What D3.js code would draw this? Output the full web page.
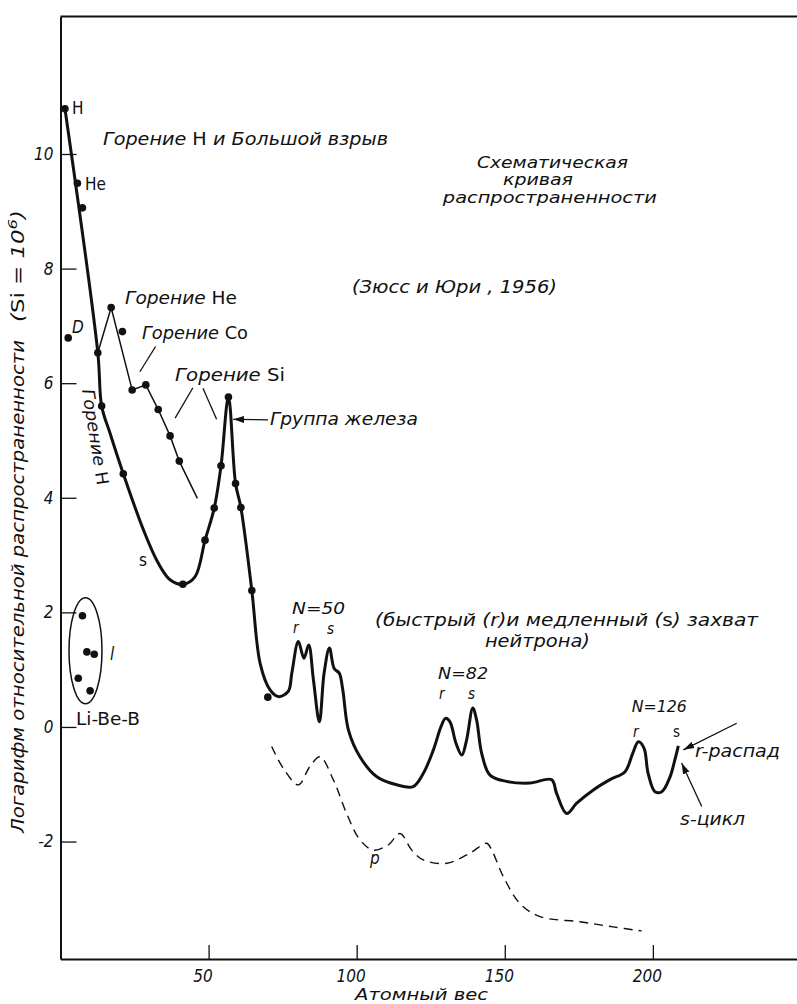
<!DOCTYPE html>
<html>
<head>
<meta charset="utf-8">
<script src="https://cdn.jsdelivr.net/npm/d3@7"></script>
<style>
  body { margin: 0; background: #fff; }
  svg text { font-family: "DejaVu Sans Condensed", "DejaVu Sans", sans-serif; fill: #111; font-size: 17px; }
  .it { font-style: italic; }
  .up { font-style: normal; }
</style>
</head>
<body>
<script>
'use strict';

// главная кривая (атомный вес / логарифм распространенности)
const mainMass = [1.5, 12.6, 13.9, 16.7, 21.2, 28.0, 33.0, 37.0, 41.3, 45.4, 48.8, 51.9, 54.2,
  56.7, 59.1, 60.9, 64.6, 67.4, 70.7, 73.5, 76.9, 78.1, 80.3, 82.2, 83.8, 85.4, 87.4, 89.0,
  90.8, 92.4, 94.1, 95.3, 97.2, 101.1, 106.8, 113.5, 119.1, 122.5, 125.9, 128.5, 130.0, 131.5,
  133.5, 135.5, 137.1, 139.2, 140.5, 142.2, 145.0, 150.6, 158.5, 165.8, 167.5, 170.9, 174.3,
  179.9, 185.5, 190.6, 193.2, 195.1, 197.0, 198.4, 200.7, 203.0, 205.8, 207.4, 208.6];
const mainLog = [10.79, 6.53, 5.60, 5.13, 4.42, 3.44, 2.86, 2.57, 2.49, 2.62, 3.26, 3.82, 4.56,
  5.76, 4.25, 3.83, 2.38, 1.11, 0.65, 0.53, 0.62, 0.94, 1.49, 1.20, 1.43, 0.82, 0.09, 0.94,
  1.38, 1.02, 0.94, 0.65, -0.05, -0.52, -0.87, -1.01, -1.04, -0.81, -0.40, 0.01, 0.15, 0.09,
  -0.28, -0.49, -0.23, 0.33, 0.12, -0.46, -0.84, -0.95, -0.98, -0.92, -1.16, -1.51, -1.33,
  -1.10, -0.92, -0.78, -0.46, -0.26, -0.37, -0.81, -1.13, -1.13, -0.87, -0.58, -0.33];

// горение He (тонкая ломаная)
const heMass = [12.6, 17.1, 24.2, 28.8, 33.0, 37.0, 40.1, 46.2];
const heLog = [6.53, 7.32, 5.88, 5.97, 5.54, 5.08, 4.64, 3.99];

// p-ядра (штрихи)
const pMass = [71.3, 75.2, 80.3, 84.2, 87.6, 92.1, 96.6, 101.1, 105.6, 110.6, 114.6, 118.6,
  122.5, 130.4, 138.3, 143.9, 145.6, 149.5, 155.1, 161.9, 175.4, 186.6, 196.2];
const pLog = [-0.34, -0.72, -1.01, -0.69, -0.52, -0.92, -1.51, -1.97, -2.15, -2.06, -1.86, -2.15,
  -2.32, -2.38, -2.20, -2.03, -2.15, -2.61, -3.08, -3.31, -3.40, -3.49, -3.56];

// точки
const dotMass = [1.5, 5.7, 7.4, 2.6, 12.6, 17.1, 20.9, 13.9, 24.2, 28.8, 33.0, 37.0, 40.1,
  21.2, 41.3, 48.8, 51.9, 54.2, 56.7, 59.1, 60.9, 64.6, 70.0];
const dotLog = [10.79, 9.49, 9.06, 6.79, 6.53, 7.32, 6.90, 5.60, 5.88, 5.97, 5.54, 5.08, 4.64,
  4.42, 2.49, 3.26, 3.82, 4.56, 5.76, 4.25, 3.83, 2.38, 0.52];

// Li-Be-B
const lightMass = [7.4, 8.9, 11.4, 6.0, 10.0];
const lightLog = [1.94, 1.31, 1.27, 0.85, 0.63];

const xTicks = [50, 100, 150, 200];
const yTicks = [-2, 0, 2, 4, 6, 8, 10];

(function() {

  let svgContainer = "";

  const xScale = d3.scaleLinear().domain([0, 249]).range([60.5, 798]);
  const yScale = d3.scaleLinear().domain([-4.05, 12.4]).range([959, 16.5]);

  // подписи внутри поля (в единицах данных)
  const notes = [
    { parts: [['H', 0]], m: 3.9, v: 10.70 },
    { parts: [['Горение ', 1], ['H', 0], [' и Большой взрыв', 1]], m: 14.35, v: 10.16, len: 285 },
    { parts: [['He', 0]], m: 8.3, v: 9.37 },
    { parts: [['Схематическая', 1]], m: 140.6, v: 9.76, len: 151, fs: 15 },
    { parts: [['кривая', 1]], m: 149.4, v: 9.46, len: 70, fs: 15 },
    { parts: [['распространенности', 1]], m: 129.1, v: 9.14, len: 214, fs: 15 },
    { parts: [['(Зюсс и Юри , 1956)', 1]], m: 98.4, v: 7.57, len: 205 },
    { parts: [['Горение ', 1], ['He', 0]], m: 21.8, v: 7.38, len: 112 },
    { parts: [['Горение ', 1], ['Co', 0]], m: 27.5, v: 6.77, len: 106 },
    { parts: [['Горение ', 1], ['Si', 0]], m: 38.7, v: 6.04, len: 110 },
    { parts: [['Группа железа', 1]], m: 70.7, v: 5.27, len: 148 },
    { parts: [['s', 0]], m: 26.5, v: 2.81 },
    { parts: [['D', 1]], m: 3.9, v: 6.88 },
    { parts: [['l', 1]], m: 16.7, v: 1.17 },
    { parts: [['Li-Be-B', 0]], m: 5.23, v: 0.03, len: 64 },
    { parts: [['N=50', 1]], m: 78.2, v: 1.97, len: 53, fs: 16 },
    { parts: [['r', 1]], m: 78.5, v: 1.64, fs: 15 },
    { parts: [['s', 1]], m: 90.0, v: 1.62, fs: 15 },
    { parts: [['(быстрый (', 1], ['r', 1], [')и медленный (', 1], ['s', 0], [')  захват', 1]], m: 106.2, v: 1.76, len: 383 },
    { parts: [['нейтрона)', 1]], m: 143.3, v: 1.40, len: 105 },
    { parts: [['N=82', 1]], m: 127.5, v: 0.84, len: 50, fs: 16 },
    { parts: [['r', 1]], m: 127.8, v: 0.49, fs: 15 },
    { parts: [['s', 1]], m: 137.6, v: 0.49, fs: 15 },
    { parts: [['N=126', 1]], m: 192.9, v: 0.26, len: 55, fs: 16 },
    { parts: [['r', 1]], m: 193.3, v: -0.17, fs: 15 },
    { parts: [['s', 0]], m: 206.8, v: -0.17, fs: 15 },
    { parts: [['r-распад', 1]], m: 214.2, v: -0.52, len: 85 },
    { parts: [['s-цикл', 1]], m: 209.2, v: -1.71, len: 65 },
    { parts: [['p', 1]], m: 104.5, v: -2.39 }
  ];

  const leaders = [
    { from: [32.1, 6.64], to: [26.8, 6.20] },
    { from: [44.7, 5.92], to: [38.7, 5.39] },
    { from: [48.1, 5.91], to: [52.7, 5.37] },
    { from: [70.05, 5.36], to: [58.3, 5.37], arrow: true },
    { from: [228.3, 0.065], to: [210.3, -0.40], arrow: true },
    { from: [216.5, -1.39], to: [209.7, -0.63], arrow: true }
  ];

  window.onload = function() {
    svgContainer = d3.select('body')
      .append('svg')
      .attr('width', 797)
      .attr('height', 1004);

    svgContainer.append('defs').append('marker')
      .attr('id', 'arrow')
      .attr('markerUnits', 'userSpaceOnUse')
      .attr('markerWidth', 12).attr('markerHeight', 8)
      .attr('refX', 11).attr('refY', 4)
      .attr('orient', 'auto')
      .append('path')
        .attr('d', 'M0,0.5 L11,4 L0,7.5 Z')
        .attr('fill', '#111');

    drawAxes();
    plotCurves();
    plotPoints();
    makeLabels();
  };

  function drawAxes() {
    let yAxis = d3.axisLeft(yScale)
      .tickValues(yTicks)
      .tickSizeInner(-16)
      .tickSizeOuter(0)
      .tickPadding(7)
      .tickFormat(d => d);

    let gy = svgContainer.append('g')
      .attr('transform', `translate(${xScale(0)}, 0)`)
      .call(yAxis);
    gy.select('.domain').attr('stroke', '#111').attr('stroke-width', 2);
    gy.selectAll('.tick line').attr('stroke', '#111').attr('stroke-width', 1.3);
    gy.selectAll('.tick text').attr('class', 'it');

    let xAxis = d3.axisBottom(xScale)
      .tickValues(xTicks)
      .tickSizeInner(-14)
      .tickSizeOuter(0)
      .tickPadding(11);

    let gx = svgContainer.append('g')
      .attr('transform', `translate(0, ${yScale(-4.05)})`)
      .call(xAxis);
    gx.select('.domain').attr('stroke', '#111').attr('stroke-width', 2);
    gx.selectAll('.tick line').attr('stroke', '#111').attr('stroke-width', 1.3);
    gx.selectAll('.tick text').attr('class', 'it').attr('dx', -6);

    // верхняя рамка
    svgContainer.append('line')
      .attr('x1', xScale(0)).attr('x2', xScale(249))
      .attr('y1', yScale(12.4)).attr('y2', yScale(12.4))
      .attr('stroke', '#111')
      .attr('stroke-width', 2);
  }

  function plotCurves() {
    let line = d3.line()
      .x(d => xScale(d[0]))
      .y(d => yScale(d[1]));

    svgContainer.append('path')
      .datum(d3.zip(heMass, heLog))
      .attr('d', line.curve(d3.curveLinear))
      .attr('fill', 'none')
      .attr('stroke', '#111')
      .attr('stroke-width', 1.5);

    svgContainer.append('path')
      .datum(d3.zip(pMass, pLog))
      .attr('d', line.curve(d3.curveCatmullRom.alpha(0.5)))
      .attr('fill', 'none')
      .attr('stroke', '#111')
      .attr('stroke-width', 1.4)
      .attr('stroke-dasharray', '9,6');

    svgContainer.append('path')
      .datum(d3.zip(mainMass, mainLog))
      .attr('d', line.curve(d3.curveCatmullRom.alpha(0.5)))
      .attr('fill', 'none')
      .attr('stroke', '#111')
      .attr('stroke-width', 3)
      .attr('stroke-linejoin', 'round');

    // контур группы Li-Be-B
    svgContainer.append('ellipse')
      .attr('cx', xScale(8.44))
      .attr('cy', yScale(1.33))
      .attr('rx', xScale(8.44 + 5.57) - xScale(8.44))
      .attr('ry', yScale(1.33 - 0.925) - yScale(1.33))
      .attr('fill', 'none')
      .attr('stroke', '#111')
      .attr('stroke-width', 1.5);
  }

  function plotPoints() {
    svgContainer.selectAll('.dot')
      .data(d3.zip(dotMass, dotLog).concat(d3.zip(lightMass, lightLog)))
      .enter()
      .append('circle')
        .attr('class', 'dot')
        .attr('cx', d => xScale(d[0]))
        .attr('cy', d => yScale(d[1]))
        .attr('r', 3.8)
        .attr('fill', '#111');

    leaders.forEach(l => {
      let ln = svgContainer.append('line')
        .attr('x1', xScale(l.from[0])).attr('y1', yScale(l.from[1]))
        .attr('x2', xScale(l.to[0])).attr('y2', yScale(l.to[1]))
        .attr('stroke', '#111')
        .attr('stroke-width', 1.3);
      if (l.arrow) ln.attr('marker-end', 'url(#arrow)');
    });
  }

  function makeLabels() {
    notes.forEach(n => {
      let t = svgContainer.append('text')
        .attr('x', xScale(n.m))
        .attr('y', yScale(n.v));
      if (n.fs) t.style('font-size', n.fs + 'px');
      n.parts.forEach(p => {
        t.append('tspan').attr('class', p[1] ? 'it' : 'up').text(p[0]);
      });
      if (n.len) t.attr('textLength', n.len).attr('lengthAdjust', 'spacingAndGlyphs');
    });

    // Горение H вдоль кривой
    svgContainer.append('text')
      .attr('transform', `translate(${xScale(7.26)}, ${yScale(5.88)}) rotate(81)`)
      .attr('textLength', 97)
      .attr('lengthAdjust', 'spacingAndGlyphs')
      .call(t => {
        t.append('tspan').attr('class', 'it').text('Горение ');
        t.append('tspan').attr('class', 'up').text('H');
      });

    svgContainer.append('text')
      .attr('class', 'it')
      .attr('x', 355)
      .attr('y', 1000)
      .attr('textLength', 133)
      .attr('lengthAdjust', 'spacingAndGlyphs')
      .style('font-size', '16px')
      .text('Атомный вес');

    svgContainer.append('text')
      .attr('class', 'it')
      .attr('transform', 'translate(24, 833) rotate(-90)')
      .attr('textLength', 493)
      .attr('lengthAdjust', 'spacingAndGlyphs')
      .style('font-size', '18px')
      .text('Логарифм относительной распространенности');

    svgContainer.append('text')
      .attr('transform', 'translate(24, 322) rotate(-90)')
      .attr('textLength', 112)
      .attr('lengthAdjust', 'spacingAndGlyphs')
      .style('font-size', '18px')
      .call(t => {
        t.append('tspan').attr('class', 'it').text('(');
        t.append('tspan').attr('class', 'up').text('Si');
        t.append('tspan').attr('class', 'it').text(' = 10');
        t.append('tspan').attr('class', 'it').attr('dy', -7).style('font-size', '13px').text('6');
        t.append('tspan').attr('class', 'it').attr('dy', 7).text(')');
      });
  }

})();
</script>
</body>
</html>
